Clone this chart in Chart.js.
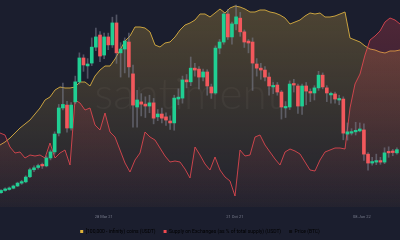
<!DOCTYPE html>
<html>
<head>
<meta charset="utf-8">
<script src="https://cdn.jsdelivr.net/npm/chart.js@4.4.1/dist/chart.umd.min.js"></script>
<style>
  html, body { margin: 0; padding: 0; background: #1b1e2e; }
  canvas { display: block; }
</style>
</head>
<body>
<canvas id="supply-chart" width="400" height="240"></canvas>
<script>
// weekly BTC candles, thousands of USD
const candleOpen = [9.9, 10.6, 10.9, 11.3, 12.0, 12.9, 13.3, 14.9, 17.1, 17.8, 18.6, 18.3, 20.8, 22.7, 28.6, 36.5, 37.4, 30.2, 38.4, 44.7,
  52.2, 49.7, 50.6, 55.6, 59.4, 53.1, 58.8, 56.3, 63.2, 53.8, 55.0, 57.2, 47.2, 36.8, 38.4, 37.7, 37.1, 38.1, 33.7, 34.6,
  33.7, 32.4, 31.8, 39.3, 39.6, 45.3, 44.7, 49.0, 48.7, 46.2, 47.8, 43.1, 41.2, 55.3, 57.2, 66.0, 58.8, 62.9, 64.7, 60.4,
  57.5, 57.2, 50.3, 49.0, 48.4, 46.2, 43.1, 43.7, 41.5, 36.5, 36.8, 44.0, 43.4, 37.1, 43.4, 41.5, 41.2, 42.8, 46.8, 42.8,
  40.6, 40.9, 39.0, 39.3, 28.3, 28.6, 29.0, 29.3, 29.6, 22.0, 19.2, 19.5, 19.8, 19.5, 22.7, 22.7, 22.4];
const candleClose = [10.6, 10.9, 11.3, 12.0, 12.9, 13.3, 14.8, 17.1, 17.7, 18.4, 18.3, 20.8, 22.7, 28.3, 36.5, 37.6, 30.2, 37.4, 44.7, 52.2,
  50.0, 50.3, 55.6, 58.8, 52.8, 58.8, 56.3, 63.2, 53.8, 55.0, 57.5, 49.4, 37.4, 39.0, 37.7, 37.1, 38.1, 33.3, 34.6, 33.3,
  32.7, 31.8, 39.6, 39.9, 45.3, 44.7, 49.0, 48.4, 46.2, 47.8, 43.4, 41.2, 55.3, 57.2, 66.0, 58.8, 62.9, 65.1, 60.4, 57.2,
  56.9, 50.6, 49.0, 48.4, 46.2, 43.4, 43.4, 41.5, 36.8, 36.8, 44.0, 43.7, 37.1, 43.4, 41.8, 41.2, 42.8, 46.8, 43.1, 41.2,
  40.9, 39.3, 39.3, 28.6, 29.0, 29.0, 29.3, 29.9, 22.0, 19.2, 19.5, 19.8, 19.5, 22.4, 22.4, 22.5, 23.4];
const candleHigh = [10.9, 11.4, 11.7, 12.3, 13.2, 13.8, 15.2, 17.6, 18.3, 18.9, 19.2, 21.4, 23.3, 29.0, 37.6, 44.3, 38.6, 38.2, 46.5, 53.8,
  53.2, 52.0, 58.5, 61.6, 60.5, 60.0, 60.0, 65.0, 65.7, 57.0, 58.5, 60.0, 50.0, 42.0, 41.0, 40.0, 40.5, 39.5, 36.0, 36.5,
  35.0, 34.0, 40.5, 42.5, 46.5, 47.0, 52.5, 50.5, 49.5, 48.7, 48.5, 44.0, 56.0, 58.0, 66.5, 67.5, 63.5, 68.8, 66.5, 61.0,
  58.0, 58.5, 52.0, 50.5, 49.5, 47.5, 44.5, 44.5, 42.0, 38.5, 45.0, 45.5, 44.0, 44.0, 44.5, 42.5, 43.5, 48.0, 47.5, 43.5,
  41.5, 41.5, 40.5, 40.0, 31.8, 30.0, 32.0, 31.8, 31.5, 22.5, 21.0, 22.0, 21.0, 24.0, 24.3, 23.5, 24.0];
const candleLow = [9.7, 10.4, 10.7, 11.1, 11.8, 12.5, 13.0, 14.6, 16.5, 17.3, 17.5, 18.0, 20.2, 22.0, 27.7, 35.9, 28.9, 29.5, 37.8, 44.0,
  48.0, 45.8, 49.8, 54.5, 51.0, 52.0, 54.8, 55.5, 50.5, 46.2, 47.5, 46.2, 30.5, 30.5, 34.0, 33.5, 35.0, 31.5, 32.5, 31.8,
  31.0, 29.8, 29.5, 37.5, 38.0, 42.8, 43.5, 46.5, 42.5, 45.0, 40.5, 39.5, 40.8, 53.5, 56.5, 58.0, 56.5, 61.0, 59.0, 55.5,
  53.8, 42.0, 46.5, 45.5, 45.0, 40.5, 41.0, 40.5, 33.0, 33.5, 36.0, 41.5, 34.8, 34.5, 37.5, 38.5, 39.0, 42.0, 42.5, 38.5,
  38.0, 38.0, 37.5, 26.5, 26.4, 28.0, 28.0, 29.0, 20.0, 17.0, 18.5, 18.7, 18.8, 19.0, 21.0, 21.5, 22.0];

// daily-ish lines, sampled evenly across the same period
const whaleUsdt = [6.2, 6.5, 6.9, 7.4, 7.9, 8.3, 8.7, 9.3, 9.9, 10.7,
  11.0, 11.7, 12.0, 11.9, 11.9, 12.0, 12.5, 12.5, 12.1, 13.1,
  13.7, 14.1, 14.1, 14.8, 15.7, 16.6, 17.1, 18.0, 18.0, 17.9,
  17.5, 16.2, 16.0, 16.4, 16.5, 17.0, 17.7, 18.2, 18.4, 18.7,
  19.3, 19.3, 19.0, 19.4, 19.8, 19.4, 19.9, 20.1, 20.0, 19.8,
  19.5, 19.5, 19.7, 19.7, 19.5, 19.4, 19.2, 18.9, 18.3, 18.5,
  18.7, 19.1, 19.4, 19.3, 19.4, 19.0, 19.0, 19.1, 19.3, 19.5,
  16.9, 16.7, 16.5, 16.1, 15.8, 15.7, 15.5, 15.4, 15.6, 15.6, 15.7];
const exchangeShare = [14.8, 14.4, 12.0, 10.8, 11.0, 9.8, 10.4, 10.2, 10.4, 9.8,
  12.8, 9.8, 10.8, 11.4, 8.4, 21.4, 20.8, 19.4, 19.8, 16.4,
  15.4, 18.8, 15.0, 14.0, 11.4, 8.8, 7.0, 9.4, 10.8, 15.0,
  14.0, 13.4, 11.8, 10.2, 9.0, 9.2, 9.0, 7.6, 5.8, 12.0,
  10.4, 8.6, 7.4, 10.0, 7.4, 6.0, 5.2, 2.2, 11.4, 10.2,
  10.4, 14.0, 14.4, 12.4, 11.0, 9.6, 8.4, 11.0, 11.6, 11.2,
  10.6, 9.0, 7.4, 7.2, 9.4, 11.0, 11.4, 11.8, 11.8, 11.6,
  19.8, 24.6, 26.6, 30.4, 33.4, 34.2, 35.2, 37.0, 37.8, 37.4, 36.6];

const tickAt = [24.9, 56.7, 87.5];
const tickLabels = ['28 Mar 21', '21 Oct 21', '08 Jun 22'];
const seriesNames = ['[100,000 - infinity) coins (USDT)', 'Supply on Exchanges (as % of total supply) (USDT)', 'Price (BTC)'];

const GOLD = '#c9a23f';
const RED_LINE = 'rgba(228, 72, 80, 0.85)';
const UP = '#20cf93';
const DOWN = '#f2585c';
const WICK = 'rgba(125, 130, 145, 0.55)';
const legendColors = ['#e0b43a', '#f04a50', '#0d0e14'];

const fade = (rgb, top, bottom) => (ctx) => {
  const area = ctx.chart.chartArea;
  if (!area) return null;
  const g = ctx.chart.ctx.createLinearGradient(0, area.top, 0, area.bottom);
  g.addColorStop(0, `rgba(${rgb}, ${top})`);
  g.addColorStop(1, `rgba(${rgb}, ${bottom})`);
  return g;
};

const watermark = {
  id: 'watermark',
  beforeDatasetsDraw(chart) {
    const {ctx, chartArea: a} = chart;
    ctx.save();
    ctx.font = '300 44px Lato';
    ctx.fillStyle = 'rgba(255, 255, 255, 0.045)';
    ctx.textAlign = 'center';
    ctx.textBaseline = 'middle';
    ctx.fillText('santiment', a.left + a.width * 0.47, a.top + a.height * 0.46);
    ctx.restore();
  },
};

const isUp = (i) => candleClose[i] >= candleOpen[i];

new Chart(document.getElementById('supply-chart'), {
  type: 'line',
  data: {
    datasets: [
      {
        label: seriesNames[0],
        xAxisID: 'xl',
        yAxisID: 'yWhale',
        data: whaleUsdt.map((v, j) => ({x: j, y: v})),
        borderColor: GOLD,
        borderWidth: 1,
        pointRadius: 0,
        fill: 'start',
        backgroundColor: fade('201, 162, 63', 0.3, 0.03),
        order: 4,
      },
      {
        label: seriesNames[1],
        xAxisID: 'xl',
        yAxisID: 'yEx',
        data: exchangeShare.map((v, j) => ({x: j, y: v})),
        borderColor: RED_LINE,
        borderWidth: 1,
        pointRadius: 0,
        fill: 'start',
        backgroundColor: fade('214, 62, 80', 0.3, 0.02),
        order: 3,
      },
      {
        label: 'wicks',
        type: 'bar',
        yAxisID: 'yPrice',
        data: candleLow.map((v, i) => ({x: i, y: [v, candleHigh[i]]})),
        backgroundColor: WICK,
        barThickness: 1,
        grouped: false,
        order: 2,
      },
      {
        label: seriesNames[2],
        type: 'bar',
        yAxisID: 'yPrice',
        data: candleOpen.map((v, i) => ({x: i, y: [v, candleClose[i]]})),
        backgroundColor: (ctx) => (isUp(ctx.dataIndex) ? UP : DOWN),
        barThickness: 3,
        minBarLength: 1.5,
        grouped: false,
        order: 1,
      },
    ],
  },
  options: {
    responsive: false,
    animation: false,
    devicePixelRatio: 1,
    layout: {padding: 0},
    scales: {
      x: {
        type: 'linear',
        offset: false,
        min: -0.25,
        max: 96.75,
        afterBuildTicks: (axis) => {
          axis.ticks = tickAt.map((v) => ({value: v}));
        },
        afterFit: (axis) => {
          axis.height = 14;
        },
        grid: {display: false, drawTicks: false, offset: false},
        border: {display: false},
        ticks: {
          autoSkip: false,
          maxRotation: 0,
          padding: 8,
          color: 'rgba(150, 154, 170, 0.75)',
          font: {family: 'Roboto', size: 4},
          callback: (v) => tickLabels[tickAt.indexOf(v)] ?? '',
        },
      },
      xl: {type: 'linear', display: false, offset: false, min: 0, max: whaleUsdt.length - 1},
      yPrice: {type: 'linear', display: false, min: 5.4, max: 70.4},
      yWhale: {type: 'linear', display: false, min: 0, max: 20.7},
      yEx: {type: 'linear', display: false, min: 0, max: 41.4},
    },
    plugins: {
      tooltip: {enabled: false},
      legend: {
        position: 'bottom',
        maxHeight: 19,
        labels: {
          boxWidth: 3,
          boxHeight: 3,
          padding: 8,
          color: '#a9acb9',
          font: {family: 'Roboto', size: 5},
          generateLabels: () => seriesNames.map((text, i) => ({
            text,
            fillStyle: legendColors[i],
            strokeStyle: legendColors[i],
            lineWidth: 0,
            hidden: false,
            datasetIndex: i,
          })),
        },
      },
    },
  },
  plugins: [watermark],
});
</script>
</body>
</html>
